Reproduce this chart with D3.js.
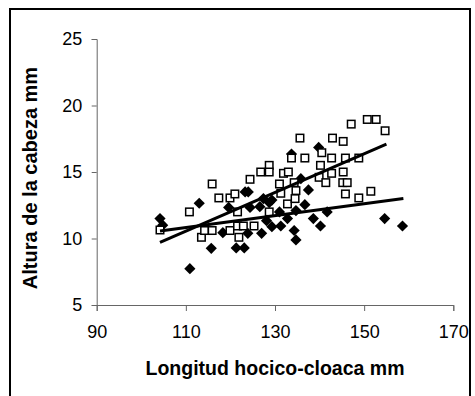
<!DOCTYPE html>
<html>
<head>
<meta charset="utf-8">
<script src="https://cdn.jsdelivr.net/npm/d3@7"></script>
<style>
  html, body { margin: 0; padding: 0; background: #fff; }
  svg { display: block; }
</style>
</head>
<body>
<script>
// ---- Data ----
const xTicks = [90, 110, 130, 150, 170];
const yTicks = [5, 10, 15, 20, 25];

// Open squares series
const squareX = [104.2, 110.8, 113.5, 114.2, 115.9, 115.9, 117.4, 119.9, 119.9, 121.0,
                 121.6, 121.9, 121.6, 122.9, 124.4, 125.3, 126.8, 128.7, 128.7, 128.7,
                 131.0, 131.3, 131.9, 133.0, 132.8, 133.7, 134.3, 134.7, 134.5, 135.6,
                 136.7, 139.9, 140.2, 140.5, 141.4, 142.7, 142.7, 142.9, 145.2, 145.3,
                 145.3, 145.8, 145.8, 146.2, 147.1, 148.8, 148.8, 150.7, 152.7, 151.5,
                 154.7];
const squareY = [10.64, 12.0, 10.09, 10.6, 14.1, 10.6, 13.05, 13.05, 10.6, 13.35,
                 12.0, 10.09, 10.94, 10.94, 14.45, 10.94, 15.0, 15.5, 15.0, 12.0,
                 14.1, 13.4, 14.9, 15.0, 12.6, 16.05, 14.2, 13.6, 13.0, 17.55,
                 16.05, 14.6, 15.5, 16.45, 14.2, 16.05, 14.9, 17.55, 14.2, 17.3,
                 15.0, 16.05, 13.35, 14.2, 18.6, 13.05, 16.05, 18.95, 18.95, 13.55,
                 18.1];

// Filled diamonds series
const diamondX = [104.2, 104.8, 110.9, 113.0, 115.7, 118.3, 119.6, 121.3, 123.1, 123.3,
                  124.0, 123.9, 124.4, 127.0, 126.6, 127.4, 128.1, 128.7, 129.3, 129.3,
                  131.0, 131.3, 132.8, 133.7, 134.3, 134.7, 134.7, 135.8, 136.7, 137.5,
                  138.6, 139.8, 140.2, 141.7, 154.6, 158.6];
const diamondY = [11.5, 11.0, 7.73, 12.65, 9.26, 10.44, 12.34, 9.29, 9.29, 13.5,
                  13.5, 10.39, 12.34, 10.39, 12.39, 13.0, 11.34, 12.7, 10.89, 12.89,
                  12.0, 10.94, 11.5, 16.35, 10.6, 9.89, 12.1, 14.5, 12.54, 13.65,
                  11.5, 16.85, 10.94, 12.0, 11.5, 10.94];

// Linear trend lines (start / end values)
const squareTrendX = [104.2, 155.0];
const squareTrendY = [9.71, 17.1];
const diamondTrendX = [104.2, 158.8];
const diamondTrendY = [10.56, 13.0];

const xTitle = "Longitud hocico-cloaca mm";
const yTitle = "Altura de la cabeza mm";

// ---- Drawing ----
const W = 475, H = 396;
const svg = d3.select("body").append("svg").attr("width", W).attr("height", H);

// outer frame (bottom edge lies outside the picture)
svg.append("rect")
  .attr("x", 10).attr("y", 9).attr("width", 460).attr("height", 400)
  .attr("fill", "none").attr("stroke", "#000").attr("stroke-width", 2);

const x = d3.scaleLinear().domain([90, 170]).range([96.7, 453.3]);
const y = d3.scaleLinear().domain([5, 25]).range([305, 39]);

const font = "'Liberation Sans', Arial, sans-serif";
const axisColor = "#666";

const gx = svg.append("g").attr("transform", `translate(0,${y(5)})`)
  .call(d3.axisBottom(x).tickValues(xTicks).tickSize(6).tickSizeOuter(6).tickPadding(14).tickFormat(d3.format("d")));
const gy = svg.append("g").attr("transform", `translate(${x(90)},0)`)
  .call(d3.axisLeft(y).tickValues(yTicks).tickSize(5).tickSizeOuter(5).tickPadding(9.5).tickFormat(d3.format("d")));

[gx, gy].forEach(g => {
  g.select(".domain").attr("stroke", axisColor).attr("stroke-width", 1);
  g.selectAll(".tick line").attr("stroke", axisColor).attr("stroke-width", 1);
  g.selectAll(".tick text").attr("fill", "#000").style("font-family", font).style("font-size", "18px");
});

const diamonds = d3.range(diamondX.length).map(i => ({x: diamondX[i], y: diamondY[i]}));
const squares = d3.range(squareX.length).map(i => ({x: squareX[i], y: squareY[i]}));

// diamonds (filled)
const dr = 5.6;
svg.append("g").selectAll("path").data(diamonds).join("path")
  .attr("d", d => {
    const cx = x(d.x), cy = y(d.y);
    return `M${cx},${cy - dr}L${cx + dr},${cy}L${cx},${cy + dr}L${cx - dr},${cy}Z`;
  })
  .attr("fill", "#000");

// squares (open)
const s = 7.5;
svg.append("g").selectAll("rect").data(squares).join("rect")
  .attr("x", d => x(d.x) - s / 2).attr("y", d => y(d.y) - s / 2)
  .attr("width", s).attr("height", s)
  .attr("fill", "#fff").attr("stroke", "#000").attr("stroke-width", 1.5);

// trend lines
const line = d3.line().x(d => x(d[0])).y(d => y(d[1]));
svg.append("path")
  .datum(squareTrendX.map((v, i) => [v, squareTrendY[i]]))
  .attr("d", line).attr("fill", "none").attr("stroke", "#000").attr("stroke-width", 3);
svg.append("path")
  .datum(diamondTrendX.map((v, i) => [v, diamondTrendY[i]]))
  .attr("d", line).attr("fill", "none").attr("stroke", "#000").attr("stroke-width", 3);

// axis titles
svg.append("text")
  .attr("x", 275).attr("y", 375)
  .attr("text-anchor", "middle")
  .style("font-family", font).style("font-size", "19.5px").style("font-weight", "bold")
  .text(xTitle);

svg.append("text")
  .attr("transform", `translate(37,178) rotate(-90)`)
  .attr("text-anchor", "middle")
  .style("font-family", font).style("font-size", "20px").style("font-weight", "bold")
  .text(yTitle);
</script>
</body>
</html>
